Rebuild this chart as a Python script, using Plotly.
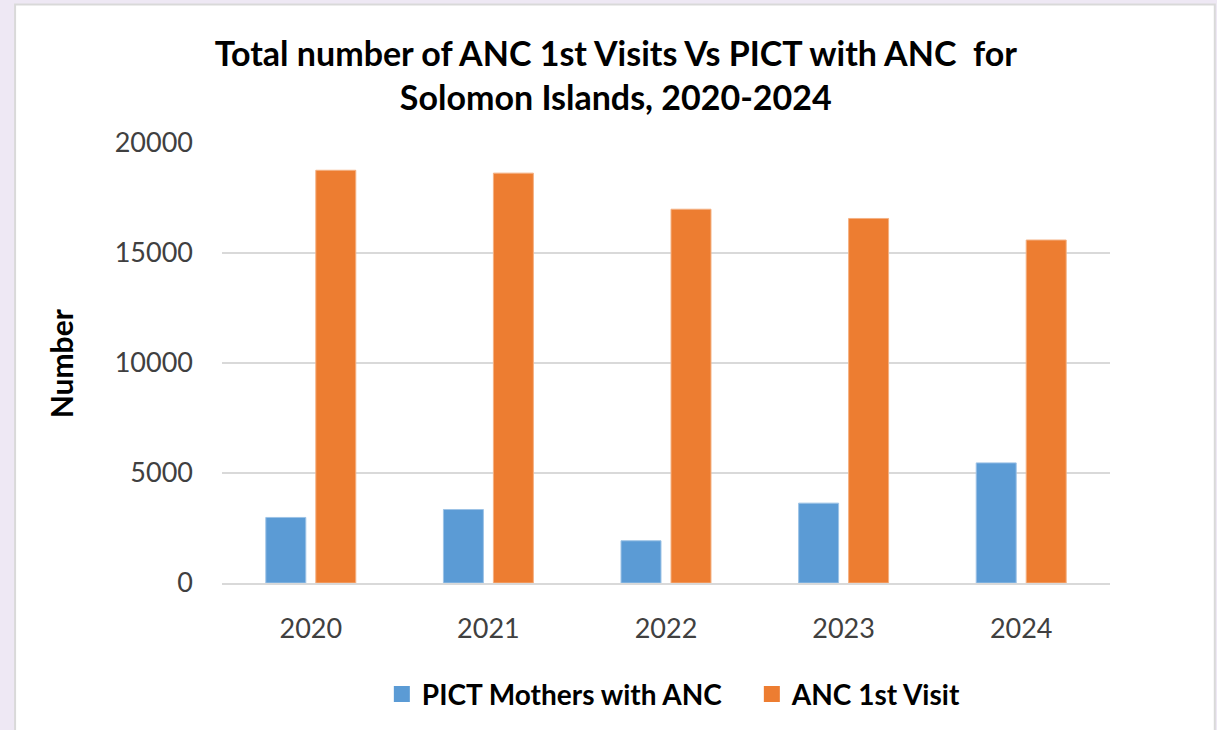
import plotly.graph_objects as go

years = ['2020', '2021', '2022', '2023', '2024']
pict_mothers = [2980, 3340, 1920, 3630, 5460]
anc_first = [18760, 18630, 16990, 16570, 15590]

blue = '#5b9bd5'
orange = '#ed7d31'

fig = go.Figure()
fig.add_trace(go.Bar(x=years, y=pict_mothers, name='PICT Mothers with ANC',
                     marker_color=blue, showlegend=False,
                     marker_line=dict(color='#9dc3e6', width=1)))
fig.add_trace(go.Bar(x=years, y=anc_first, name='ANC 1st Visit',
                     marker_color=orange, showlegend=False,
                     marker_line=dict(color='#f4b183', width=1)))
# bigger square legend keys, like the excel legend
fig.add_trace(go.Scatter(x=[None], y=[None], mode='markers', name='<b>PICT Mothers with ANC</b>',
                         marker=dict(symbol='square', size=16, color=blue)))
fig.add_trace(go.Scatter(x=[None], y=[None], mode='markers', name='<b>ANC 1st Visit</b>',
                         marker=dict(symbol='square', size=16, color=orange)))

# white chart panel on the lilac slide background
fig.add_shape(type='rect', xref='paper', yref='paper',
              x0=-0.233, x1=1.118, y0=-0.5, y1=1.315,
              fillcolor='white', line=dict(color='#d9d9d9', width=2),
              layer='below')

fig.add_annotation(text='<b>Number</b>', xref='paper', yref='paper',
                   x=-0.181, y=0.5, xanchor='center', yanchor='middle',
                   textangle=-90, showarrow=False,
                   font=dict(family='Lato', size=30, color='black'))

fig.update_layout(
    width=1217, height=730,
    margin=dict(l=222, r=107, t=143, b=146),
    paper_bgcolor='#eee8f4',
    plot_bgcolor='white',
    barmode='group', bargap=0.437, bargroupgap=0.2,
    title=dict(text='<b>Total number of ANC 1st Visits Vs PICT with ANC  for<br>Solomon Islands, 2020-2024</b>',
               x=0.506, xanchor='center', y=0.91, yanchor='middle',
               font=dict(family='Lato', size=34, color='black')),
    legend=dict(orientation='h', x=0.18, xanchor='left', y=-0.25, yanchor='middle',
                font=dict(family='Lato', size=28, color='black'),
                entrywidth=325, itemwidth=30, bgcolor='rgba(0,0,0,0)',
                traceorder='normal'),
    showlegend=True,
)

fig.update_xaxes(showgrid=False, showline=True, linecolor='#d9d9d9', linewidth=1.5,
                 ticks='', ticklabelstandoff=21,
                 tickfont=dict(family='Lato', size=27, color='#404040'))
fig.update_yaxes(range=[0, 20000], dtick=5000, tickformat='d', showgrid=True,
                 gridcolor='#d9d9d9', gridwidth=1.5, zeroline=False, showline=False,
                 ticks='', ticklabelstandoff=28,
                 tickfont=dict(family='Lato', size=27, color='#404040'))

fig.write_html("out.html", config={'displayModeBar': False},
               post_script="document.body.style.margin='0';document.body.style.overflow='hidden';")
